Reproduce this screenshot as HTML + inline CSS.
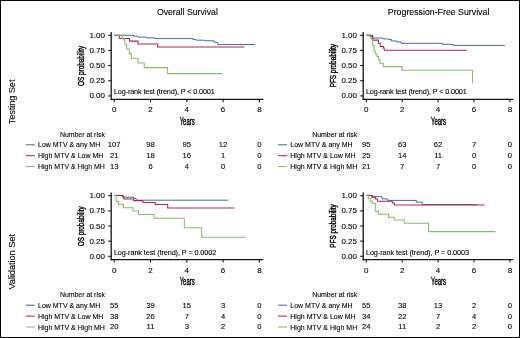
<!DOCTYPE html>
<html><head><meta charset="utf-8"><style>
html,body{margin:0;padding:0;background:#fff;}
body{width:520px;height:338px;overflow:hidden;}
svg{display:block;filter:blur(0.2px);}
text{font-family:"Liberation Sans", sans-serif;stroke:#000;stroke-width:0.1px;}
</style></head><body>
<svg width="520" height="338" viewBox="0 0 520 338">
<rect x="0" y="0" width="520" height="338" fill="#fff"/>
<rect x="0.5" y="0.5" width="519" height="337" fill="none" stroke="#000" stroke-width="1"/>
<line x1="111.20" y1="32.00" x2="111.20" y2="99.90" stroke="#151515" stroke-width="1.3"/>
<line x1="110.60" y1="99.30" x2="263.40" y2="99.30" stroke="#151515" stroke-width="1.3"/>
<line x1="108.20" y1="95.90" x2="111.20" y2="95.90" stroke="#151515" stroke-width="1.1"/>
<text x="105.00" y="98.45" font-size="8" text-anchor="end" fill="#000000" >0.00</text>
<line x1="108.20" y1="80.75" x2="111.20" y2="80.75" stroke="#151515" stroke-width="1.1"/>
<text x="105.00" y="83.30" font-size="8" text-anchor="end" fill="#000000" >0.25</text>
<line x1="108.20" y1="65.60" x2="111.20" y2="65.60" stroke="#151515" stroke-width="1.1"/>
<text x="105.00" y="68.15" font-size="8" text-anchor="end" fill="#000000" >0.50</text>
<line x1="108.20" y1="50.45" x2="111.20" y2="50.45" stroke="#151515" stroke-width="1.1"/>
<text x="105.00" y="53.00" font-size="8" text-anchor="end" fill="#000000" >0.75</text>
<line x1="108.20" y1="35.30" x2="111.20" y2="35.30" stroke="#151515" stroke-width="1.1"/>
<text x="105.00" y="37.85" font-size="8" text-anchor="end" fill="#000000" >1.00</text>
<line x1="114.20" y1="99.30" x2="114.20" y2="102.20" stroke="#151515" stroke-width="1.1"/>
<text x="114.20" y="112.40" font-size="8" text-anchor="middle" fill="#000000" >0</text>
<line x1="150.50" y1="99.30" x2="150.50" y2="102.20" stroke="#151515" stroke-width="1.1"/>
<text x="150.50" y="112.40" font-size="8" text-anchor="middle" fill="#000000" >2</text>
<line x1="186.80" y1="99.30" x2="186.80" y2="102.20" stroke="#151515" stroke-width="1.1"/>
<text x="186.80" y="112.40" font-size="8" text-anchor="middle" fill="#000000" >4</text>
<line x1="223.10" y1="99.30" x2="223.10" y2="102.20" stroke="#151515" stroke-width="1.1"/>
<text x="223.10" y="112.40" font-size="8" text-anchor="middle" fill="#000000" >6</text>
<line x1="259.40" y1="99.30" x2="259.40" y2="102.20" stroke="#151515" stroke-width="1.1"/>
<text x="259.40" y="112.40" font-size="8" text-anchor="middle" fill="#000000" >8</text>
<text x="187.20" y="124.80" font-size="10.2" text-anchor="middle" fill="#000000" textLength="15.10" lengthAdjust="spacingAndGlyphs" style="stroke-width:0.4px">Years</text>
<text x="84.40" y="65.90" font-size="9.2" text-anchor="middle" fill="#000000" textLength="40.00" lengthAdjust="spacingAndGlyphs" transform="rotate(-90 84.40 65.90)" style="stroke-width:0.4px">OS probability</text>
<path d="M114.20,35.30 H133.50 V36.20 H137.50 V37.10 H146.40 V37.90 H154.50 V38.60 H193.00 V39.60 H196.20 V40.20 H204.40 V40.80 H214.00 V42.30 H217.80 V44.50 H255.00" fill="none" stroke="#4b66a2" stroke-width="1.0" stroke-linejoin="miter"/>
<path d="M114.20,35.20 H119.30 V38.40 H129.60 V41.10 H138.00 V44.00 H157.60 V47.00 H244.40" fill="none" stroke="#b3244a" stroke-width="1.05" stroke-linejoin="miter"/>
<path d="M114.20,35.20 H122.50 V39.00 H124.70 V44.30 H126.60 V49.00 H129.30 V53.60 H131.30 V58.30 H138.00 V62.90 H144.20 V67.60 H167.60 V73.60 H222.20" fill="none" stroke="#84bc66" stroke-width="1.05" stroke-linejoin="miter"/>
<text x="113.90" y="94.15" font-size="7.3" text-anchor="start" fill="#000000" textLength="100.90" lengthAdjust="spacing" >Log-rank test (trend), P &lt; 0.0001</text>
<text x="59.90" y="136.50" font-size="7" text-anchor="start" fill="#000000" textLength="45.00" lengthAdjust="spacingAndGlyphs" >Number at risk</text>
<line x1="25.80" y1="144.80" x2="34.80" y2="144.80" stroke="#4b66a2" stroke-width="1.05"/>
<text x="38.00" y="147.30" font-size="7" text-anchor="start" fill="#000000" >Low MTV &amp; any MH</text>
<text x="114.20" y="147.20" font-size="7.6" text-anchor="middle" fill="#000000" >107</text>
<text x="150.50" y="147.20" font-size="7.6" text-anchor="middle" fill="#000000" >98</text>
<text x="186.80" y="147.20" font-size="7.6" text-anchor="middle" fill="#000000" >95</text>
<text x="223.10" y="147.20" font-size="7.6" text-anchor="middle" fill="#000000" >12</text>
<text x="259.40" y="147.20" font-size="7.6" text-anchor="middle" fill="#000000" >0</text>
<line x1="25.80" y1="155.70" x2="34.80" y2="155.70" stroke="#b3244a" stroke-width="1.05"/>
<text x="38.00" y="158.20" font-size="7" text-anchor="start" fill="#000000" >High MTV &amp; Low MH</text>
<text x="114.20" y="158.10" font-size="7.6" text-anchor="middle" fill="#000000" >21</text>
<text x="150.50" y="158.10" font-size="7.6" text-anchor="middle" fill="#000000" >18</text>
<text x="186.80" y="158.10" font-size="7.6" text-anchor="middle" fill="#000000" >16</text>
<text x="223.10" y="158.10" font-size="7.6" text-anchor="middle" fill="#000000" >1</text>
<text x="259.40" y="158.10" font-size="7.6" text-anchor="middle" fill="#000000" >0</text>
<line x1="25.80" y1="166.60" x2="34.80" y2="166.60" stroke="#84bc66" stroke-width="1.05"/>
<text x="38.00" y="169.10" font-size="7" text-anchor="start" fill="#000000" >High MTV &amp; High MH</text>
<text x="114.20" y="169.00" font-size="7.6" text-anchor="middle" fill="#000000" >13</text>
<text x="150.50" y="169.00" font-size="7.6" text-anchor="middle" fill="#000000" >6</text>
<text x="186.80" y="169.00" font-size="7.6" text-anchor="middle" fill="#000000" >4</text>
<text x="223.10" y="169.00" font-size="7.6" text-anchor="middle" fill="#000000" >0</text>
<text x="259.40" y="169.00" font-size="7.6" text-anchor="middle" fill="#000000" >0</text>
<line x1="363.20" y1="32.00" x2="363.20" y2="99.90" stroke="#151515" stroke-width="1.3"/>
<line x1="362.60" y1="99.30" x2="513.30" y2="99.30" stroke="#151515" stroke-width="1.3"/>
<line x1="360.20" y1="95.90" x2="363.20" y2="95.90" stroke="#151515" stroke-width="1.1"/>
<text x="357.00" y="98.45" font-size="8" text-anchor="end" fill="#000000" >0.00</text>
<line x1="360.20" y1="80.75" x2="363.20" y2="80.75" stroke="#151515" stroke-width="1.1"/>
<text x="357.00" y="83.30" font-size="8" text-anchor="end" fill="#000000" >0.25</text>
<line x1="360.20" y1="65.60" x2="363.20" y2="65.60" stroke="#151515" stroke-width="1.1"/>
<text x="357.00" y="68.15" font-size="8" text-anchor="end" fill="#000000" >0.50</text>
<line x1="360.20" y1="50.45" x2="363.20" y2="50.45" stroke="#151515" stroke-width="1.1"/>
<text x="357.00" y="53.00" font-size="8" text-anchor="end" fill="#000000" >0.75</text>
<line x1="360.20" y1="35.30" x2="363.20" y2="35.30" stroke="#151515" stroke-width="1.1"/>
<text x="357.00" y="37.85" font-size="8" text-anchor="end" fill="#000000" >1.00</text>
<line x1="366.30" y1="99.30" x2="366.30" y2="102.20" stroke="#151515" stroke-width="1.1"/>
<text x="366.30" y="112.40" font-size="8" text-anchor="middle" fill="#000000" >0</text>
<line x1="402.20" y1="99.30" x2="402.20" y2="102.20" stroke="#151515" stroke-width="1.1"/>
<text x="402.20" y="112.40" font-size="8" text-anchor="middle" fill="#000000" >2</text>
<line x1="438.10" y1="99.30" x2="438.10" y2="102.20" stroke="#151515" stroke-width="1.1"/>
<text x="438.10" y="112.40" font-size="8" text-anchor="middle" fill="#000000" >4</text>
<line x1="474.00" y1="99.30" x2="474.00" y2="102.20" stroke="#151515" stroke-width="1.1"/>
<text x="474.00" y="112.40" font-size="8" text-anchor="middle" fill="#000000" >6</text>
<line x1="509.90" y1="99.30" x2="509.90" y2="102.20" stroke="#151515" stroke-width="1.1"/>
<text x="509.90" y="112.40" font-size="8" text-anchor="middle" fill="#000000" >8</text>
<text x="438.50" y="124.80" font-size="10.2" text-anchor="middle" fill="#000000" textLength="15.10" lengthAdjust="spacingAndGlyphs" style="stroke-width:0.4px">Years</text>
<text x="336.40" y="65.65" font-size="9.2" text-anchor="middle" fill="#000000" textLength="43.40" lengthAdjust="spacingAndGlyphs" transform="rotate(-90 336.40 65.65)" style="stroke-width:0.4px">PFS probability</text>
<path d="M366.30,35.20 H371.00 V36.30 H373.00 V38.00 H382.80 V38.90 H388.60 V39.50 H391.50 V41.00 H397.00 V42.00 H401.20 V43.30 H442.40 V44.30 H453.30 V45.40 H505.00" fill="none" stroke="#4b66a2" stroke-width="1.0" stroke-linejoin="miter"/>
<path d="M366.30,35.20 H372.60 V40.10 H378.50 V43.30 H380.20 V46.50 H383.30 V48.00 H384.20 V50.20 H467.00" fill="none" stroke="#b3244a" stroke-width="1.05" stroke-linejoin="miter"/>
<path d="M366.30,35.20 H369.10 V36.20 H370.40 V38.00 H371.80 V39.80 H372.60 V45.00 H374.00 V51.30 H375.30 V54.00 H377.00 V56.60 H378.60 V60.00 H380.00 V63.20 H383.30 V66.60 H401.90 V70.20 H472.50 V83.40 H472.50" fill="none" stroke="#84bc66" stroke-width="1.05" stroke-linejoin="miter"/>
<text x="365.90" y="94.15" font-size="7.3" text-anchor="start" fill="#000000" textLength="100.90" lengthAdjust="spacing" >Log-rank test (trend), P &lt; 0.0001</text>
<text x="312.20" y="136.50" font-size="7" text-anchor="start" fill="#000000" textLength="45.00" lengthAdjust="spacingAndGlyphs" >Number at risk</text>
<line x1="278.10" y1="144.80" x2="287.10" y2="144.80" stroke="#4b66a2" stroke-width="1.05"/>
<text x="290.30" y="147.30" font-size="7" text-anchor="start" fill="#000000" >Low MTV &amp; any MH</text>
<text x="366.30" y="147.20" font-size="7.6" text-anchor="middle" fill="#000000" >95</text>
<text x="402.20" y="147.20" font-size="7.6" text-anchor="middle" fill="#000000" >63</text>
<text x="438.10" y="147.20" font-size="7.6" text-anchor="middle" fill="#000000" >62</text>
<text x="474.00" y="147.20" font-size="7.6" text-anchor="middle" fill="#000000" >7</text>
<text x="509.90" y="147.20" font-size="7.6" text-anchor="middle" fill="#000000" >0</text>
<line x1="278.10" y1="155.70" x2="287.10" y2="155.70" stroke="#b3244a" stroke-width="1.05"/>
<text x="290.30" y="158.20" font-size="7" text-anchor="start" fill="#000000" >High MTV &amp; Low MH</text>
<text x="366.30" y="158.10" font-size="7.6" text-anchor="middle" fill="#000000" >25</text>
<text x="402.20" y="158.10" font-size="7.6" text-anchor="middle" fill="#000000" >14</text>
<text x="438.10" y="158.10" font-size="7.6" text-anchor="middle" fill="#000000" >11</text>
<text x="474.00" y="158.10" font-size="7.6" text-anchor="middle" fill="#000000" >0</text>
<text x="509.90" y="158.10" font-size="7.6" text-anchor="middle" fill="#000000" >0</text>
<line x1="278.10" y1="166.60" x2="287.10" y2="166.60" stroke="#84bc66" stroke-width="1.05"/>
<text x="290.30" y="169.10" font-size="7" text-anchor="start" fill="#000000" >High MTV &amp; High MH</text>
<text x="366.30" y="169.00" font-size="7.6" text-anchor="middle" fill="#000000" >21</text>
<text x="402.20" y="169.00" font-size="7.6" text-anchor="middle" fill="#000000" >7</text>
<text x="438.10" y="169.00" font-size="7.6" text-anchor="middle" fill="#000000" >7</text>
<text x="474.00" y="169.00" font-size="7.6" text-anchor="middle" fill="#000000" >0</text>
<text x="509.90" y="169.00" font-size="7.6" text-anchor="middle" fill="#000000" >0</text>
<line x1="111.20" y1="192.40" x2="111.20" y2="260.30" stroke="#151515" stroke-width="1.3"/>
<line x1="110.60" y1="259.70" x2="263.40" y2="259.70" stroke="#151515" stroke-width="1.3"/>
<line x1="108.20" y1="256.30" x2="111.20" y2="256.30" stroke="#151515" stroke-width="1.1"/>
<text x="105.00" y="258.85" font-size="8" text-anchor="end" fill="#000000" >0.00</text>
<line x1="108.20" y1="241.15" x2="111.20" y2="241.15" stroke="#151515" stroke-width="1.1"/>
<text x="105.00" y="243.70" font-size="8" text-anchor="end" fill="#000000" >0.25</text>
<line x1="108.20" y1="226.00" x2="111.20" y2="226.00" stroke="#151515" stroke-width="1.1"/>
<text x="105.00" y="228.55" font-size="8" text-anchor="end" fill="#000000" >0.50</text>
<line x1="108.20" y1="210.85" x2="111.20" y2="210.85" stroke="#151515" stroke-width="1.1"/>
<text x="105.00" y="213.40" font-size="8" text-anchor="end" fill="#000000" >0.75</text>
<line x1="108.20" y1="195.70" x2="111.20" y2="195.70" stroke="#151515" stroke-width="1.1"/>
<text x="105.00" y="198.25" font-size="8" text-anchor="end" fill="#000000" >1.00</text>
<line x1="114.20" y1="259.70" x2="114.20" y2="262.60" stroke="#151515" stroke-width="1.1"/>
<text x="114.20" y="272.80" font-size="8" text-anchor="middle" fill="#000000" >0</text>
<line x1="150.50" y1="259.70" x2="150.50" y2="262.60" stroke="#151515" stroke-width="1.1"/>
<text x="150.50" y="272.80" font-size="8" text-anchor="middle" fill="#000000" >2</text>
<line x1="186.80" y1="259.70" x2="186.80" y2="262.60" stroke="#151515" stroke-width="1.1"/>
<text x="186.80" y="272.80" font-size="8" text-anchor="middle" fill="#000000" >4</text>
<line x1="223.10" y1="259.70" x2="223.10" y2="262.60" stroke="#151515" stroke-width="1.1"/>
<text x="223.10" y="272.80" font-size="8" text-anchor="middle" fill="#000000" >6</text>
<line x1="259.40" y1="259.70" x2="259.40" y2="262.60" stroke="#151515" stroke-width="1.1"/>
<text x="259.40" y="272.80" font-size="8" text-anchor="middle" fill="#000000" >8</text>
<text x="187.20" y="285.20" font-size="10.2" text-anchor="middle" fill="#000000" textLength="15.10" lengthAdjust="spacingAndGlyphs" style="stroke-width:0.4px">Years</text>
<text x="84.40" y="226.30" font-size="9.2" text-anchor="middle" fill="#000000" textLength="40.00" lengthAdjust="spacingAndGlyphs" transform="rotate(-90 84.40 226.30)" style="stroke-width:0.4px">OS probability</text>
<path d="M114.20,195.40 H123.50 V197.30 H134.20 V198.50 H136.20 V200.20 H228.20" fill="none" stroke="#4b66a2" stroke-width="1.0" stroke-linejoin="miter"/>
<path d="M114.20,195.40 H122.40 V196.70 H123.80 V198.90 H133.50 V200.60 H142.90 V202.40 H155.30 V204.40 H167.70 V207.90 H234.40" fill="none" stroke="#b3244a" stroke-width="1.05" stroke-linejoin="miter"/>
<path d="M114.20,195.30 H116.20 V201.50 H118.40 V204.20 H123.30 V207.70 H133.10 V210.90 H138.40 V214.50 H154.00 V218.20 H184.30 V227.80 H201.70 V237.30 H245.90" fill="none" stroke="#84bc66" stroke-width="1.05" stroke-linejoin="miter"/>
<text x="113.90" y="254.55" font-size="7.3" text-anchor="start" fill="#000000" textLength="102.40" lengthAdjust="spacing" >Log-rank test (trend), P = 0.0002</text>
<text x="59.90" y="296.90" font-size="7" text-anchor="start" fill="#000000" textLength="45.00" lengthAdjust="spacingAndGlyphs" >Number at risk</text>
<line x1="25.80" y1="305.20" x2="34.80" y2="305.20" stroke="#4b66a2" stroke-width="1.05"/>
<text x="38.00" y="307.70" font-size="7" text-anchor="start" fill="#000000" >Low MTV &amp; any MH</text>
<text x="114.20" y="307.60" font-size="7.6" text-anchor="middle" fill="#000000" >55</text>
<text x="150.50" y="307.60" font-size="7.6" text-anchor="middle" fill="#000000" >39</text>
<text x="186.80" y="307.60" font-size="7.6" text-anchor="middle" fill="#000000" >15</text>
<text x="223.10" y="307.60" font-size="7.6" text-anchor="middle" fill="#000000" >3</text>
<text x="259.40" y="307.60" font-size="7.6" text-anchor="middle" fill="#000000" >0</text>
<line x1="25.80" y1="316.10" x2="34.80" y2="316.10" stroke="#b3244a" stroke-width="1.05"/>
<text x="38.00" y="318.60" font-size="7" text-anchor="start" fill="#000000" >High MTV &amp; Low MH</text>
<text x="114.20" y="318.50" font-size="7.6" text-anchor="middle" fill="#000000" >38</text>
<text x="150.50" y="318.50" font-size="7.6" text-anchor="middle" fill="#000000" >26</text>
<text x="186.80" y="318.50" font-size="7.6" text-anchor="middle" fill="#000000" >7</text>
<text x="223.10" y="318.50" font-size="7.6" text-anchor="middle" fill="#000000" >4</text>
<text x="259.40" y="318.50" font-size="7.6" text-anchor="middle" fill="#000000" >0</text>
<line x1="25.80" y1="327.00" x2="34.80" y2="327.00" stroke="#84bc66" stroke-width="1.05"/>
<text x="38.00" y="329.50" font-size="7" text-anchor="start" fill="#000000" >High MTV &amp; High MH</text>
<text x="114.20" y="329.40" font-size="7.6" text-anchor="middle" fill="#000000" >20</text>
<text x="150.50" y="329.40" font-size="7.6" text-anchor="middle" fill="#000000" >11</text>
<text x="186.80" y="329.40" font-size="7.6" text-anchor="middle" fill="#000000" >3</text>
<text x="223.10" y="329.40" font-size="7.6" text-anchor="middle" fill="#000000" >2</text>
<text x="259.40" y="329.40" font-size="7.6" text-anchor="middle" fill="#000000" >0</text>
<line x1="363.20" y1="192.40" x2="363.20" y2="260.30" stroke="#151515" stroke-width="1.3"/>
<line x1="362.60" y1="259.70" x2="513.30" y2="259.70" stroke="#151515" stroke-width="1.3"/>
<line x1="360.20" y1="256.30" x2="363.20" y2="256.30" stroke="#151515" stroke-width="1.1"/>
<text x="357.00" y="258.85" font-size="8" text-anchor="end" fill="#000000" >0.00</text>
<line x1="360.20" y1="241.15" x2="363.20" y2="241.15" stroke="#151515" stroke-width="1.1"/>
<text x="357.00" y="243.70" font-size="8" text-anchor="end" fill="#000000" >0.25</text>
<line x1="360.20" y1="226.00" x2="363.20" y2="226.00" stroke="#151515" stroke-width="1.1"/>
<text x="357.00" y="228.55" font-size="8" text-anchor="end" fill="#000000" >0.50</text>
<line x1="360.20" y1="210.85" x2="363.20" y2="210.85" stroke="#151515" stroke-width="1.1"/>
<text x="357.00" y="213.40" font-size="8" text-anchor="end" fill="#000000" >0.75</text>
<line x1="360.20" y1="195.70" x2="363.20" y2="195.70" stroke="#151515" stroke-width="1.1"/>
<text x="357.00" y="198.25" font-size="8" text-anchor="end" fill="#000000" >1.00</text>
<line x1="366.30" y1="259.70" x2="366.30" y2="262.60" stroke="#151515" stroke-width="1.1"/>
<text x="366.30" y="272.80" font-size="8" text-anchor="middle" fill="#000000" >0</text>
<line x1="402.20" y1="259.70" x2="402.20" y2="262.60" stroke="#151515" stroke-width="1.1"/>
<text x="402.20" y="272.80" font-size="8" text-anchor="middle" fill="#000000" >2</text>
<line x1="438.10" y1="259.70" x2="438.10" y2="262.60" stroke="#151515" stroke-width="1.1"/>
<text x="438.10" y="272.80" font-size="8" text-anchor="middle" fill="#000000" >4</text>
<line x1="474.00" y1="259.70" x2="474.00" y2="262.60" stroke="#151515" stroke-width="1.1"/>
<text x="474.00" y="272.80" font-size="8" text-anchor="middle" fill="#000000" >6</text>
<line x1="509.90" y1="259.70" x2="509.90" y2="262.60" stroke="#151515" stroke-width="1.1"/>
<text x="509.90" y="272.80" font-size="8" text-anchor="middle" fill="#000000" >8</text>
<text x="438.50" y="285.20" font-size="10.2" text-anchor="middle" fill="#000000" textLength="15.10" lengthAdjust="spacingAndGlyphs" style="stroke-width:0.4px">Years</text>
<text x="336.40" y="226.05" font-size="9.2" text-anchor="middle" fill="#000000" textLength="43.40" lengthAdjust="spacingAndGlyphs" transform="rotate(-90 336.40 226.05)" style="stroke-width:0.4px">PFS probability</text>
<path d="M366.30,195.40 H372.60 V196.70 H382.00 V198.90 H387.70 V200.40 H416.30 V202.20 H422.20 V204.60 H477.50" fill="none" stroke="#4b66a2" stroke-width="1.0" stroke-linejoin="miter"/>
<path d="M366.30,195.40 H371.80 V197.10 H375.30 V198.90 H377.50 V201.20 H392.30 V203.00 H394.30 V205.00 H484.50" fill="none" stroke="#b3244a" stroke-width="1.05" stroke-linejoin="miter"/>
<path d="M366.30,195.30 H368.20 V198.40 H370.40 V201.10 H372.20 V203.30 H375.30 V211.30 H378.40 V214.20 H388.50 V217.20 H394.30 V220.00 H404.30 V223.20 H428.60 V231.60 H495.50" fill="none" stroke="#84bc66" stroke-width="1.05" stroke-linejoin="miter"/>
<text x="365.90" y="254.55" font-size="7.3" text-anchor="start" fill="#000000" textLength="103.20" lengthAdjust="spacing" >Log-rank test (trend), P = 0.0003</text>
<text x="312.20" y="296.90" font-size="7" text-anchor="start" fill="#000000" textLength="45.00" lengthAdjust="spacingAndGlyphs" >Number at risk</text>
<line x1="278.10" y1="305.20" x2="287.10" y2="305.20" stroke="#4b66a2" stroke-width="1.05"/>
<text x="290.30" y="307.70" font-size="7" text-anchor="start" fill="#000000" >Low MTV &amp; any MH</text>
<text x="366.30" y="307.60" font-size="7.6" text-anchor="middle" fill="#000000" >55</text>
<text x="402.20" y="307.60" font-size="7.6" text-anchor="middle" fill="#000000" >38</text>
<text x="438.10" y="307.60" font-size="7.6" text-anchor="middle" fill="#000000" >13</text>
<text x="474.00" y="307.60" font-size="7.6" text-anchor="middle" fill="#000000" >2</text>
<text x="509.90" y="307.60" font-size="7.6" text-anchor="middle" fill="#000000" >0</text>
<line x1="278.10" y1="316.10" x2="287.10" y2="316.10" stroke="#b3244a" stroke-width="1.05"/>
<text x="290.30" y="318.60" font-size="7" text-anchor="start" fill="#000000" >High MTV &amp; Low MH</text>
<text x="366.30" y="318.50" font-size="7.6" text-anchor="middle" fill="#000000" >34</text>
<text x="402.20" y="318.50" font-size="7.6" text-anchor="middle" fill="#000000" >22</text>
<text x="438.10" y="318.50" font-size="7.6" text-anchor="middle" fill="#000000" >7</text>
<text x="474.00" y="318.50" font-size="7.6" text-anchor="middle" fill="#000000" >4</text>
<text x="509.90" y="318.50" font-size="7.6" text-anchor="middle" fill="#000000" >0</text>
<line x1="278.10" y1="327.00" x2="287.10" y2="327.00" stroke="#84bc66" stroke-width="1.05"/>
<text x="290.30" y="329.50" font-size="7" text-anchor="start" fill="#000000" >High MTV &amp; High MH</text>
<text x="366.30" y="329.40" font-size="7.6" text-anchor="middle" fill="#000000" >24</text>
<text x="402.20" y="329.40" font-size="7.6" text-anchor="middle" fill="#000000" >11</text>
<text x="438.10" y="329.40" font-size="7.6" text-anchor="middle" fill="#000000" >2</text>
<text x="474.00" y="329.40" font-size="7.6" text-anchor="middle" fill="#000000" >2</text>
<text x="509.90" y="329.40" font-size="7.6" text-anchor="middle" fill="#000000" >0</text>
<text x="187.40" y="14.70" font-size="9.6" text-anchor="middle" fill="#000000" textLength="61.00" lengthAdjust="spacingAndGlyphs" >Overall Survival</text>
<text x="438.60" y="14.70" font-size="9.6" text-anchor="middle" fill="#000000" textLength="101.50" lengthAdjust="spacingAndGlyphs" >Progression-Free Survival</text>
<text x="15.20" y="101.90" font-size="9.4" text-anchor="middle" fill="#000000" textLength="44.80" lengthAdjust="spacing" transform="rotate(-90 15.20 101.90)" >Testing Set</text>
<text x="15.20" y="261.80" font-size="9.4" text-anchor="middle" fill="#000000" textLength="55.60" lengthAdjust="spacing" transform="rotate(-90 15.20 261.80)" >Validation Set</text>
</svg>
</body></html>
